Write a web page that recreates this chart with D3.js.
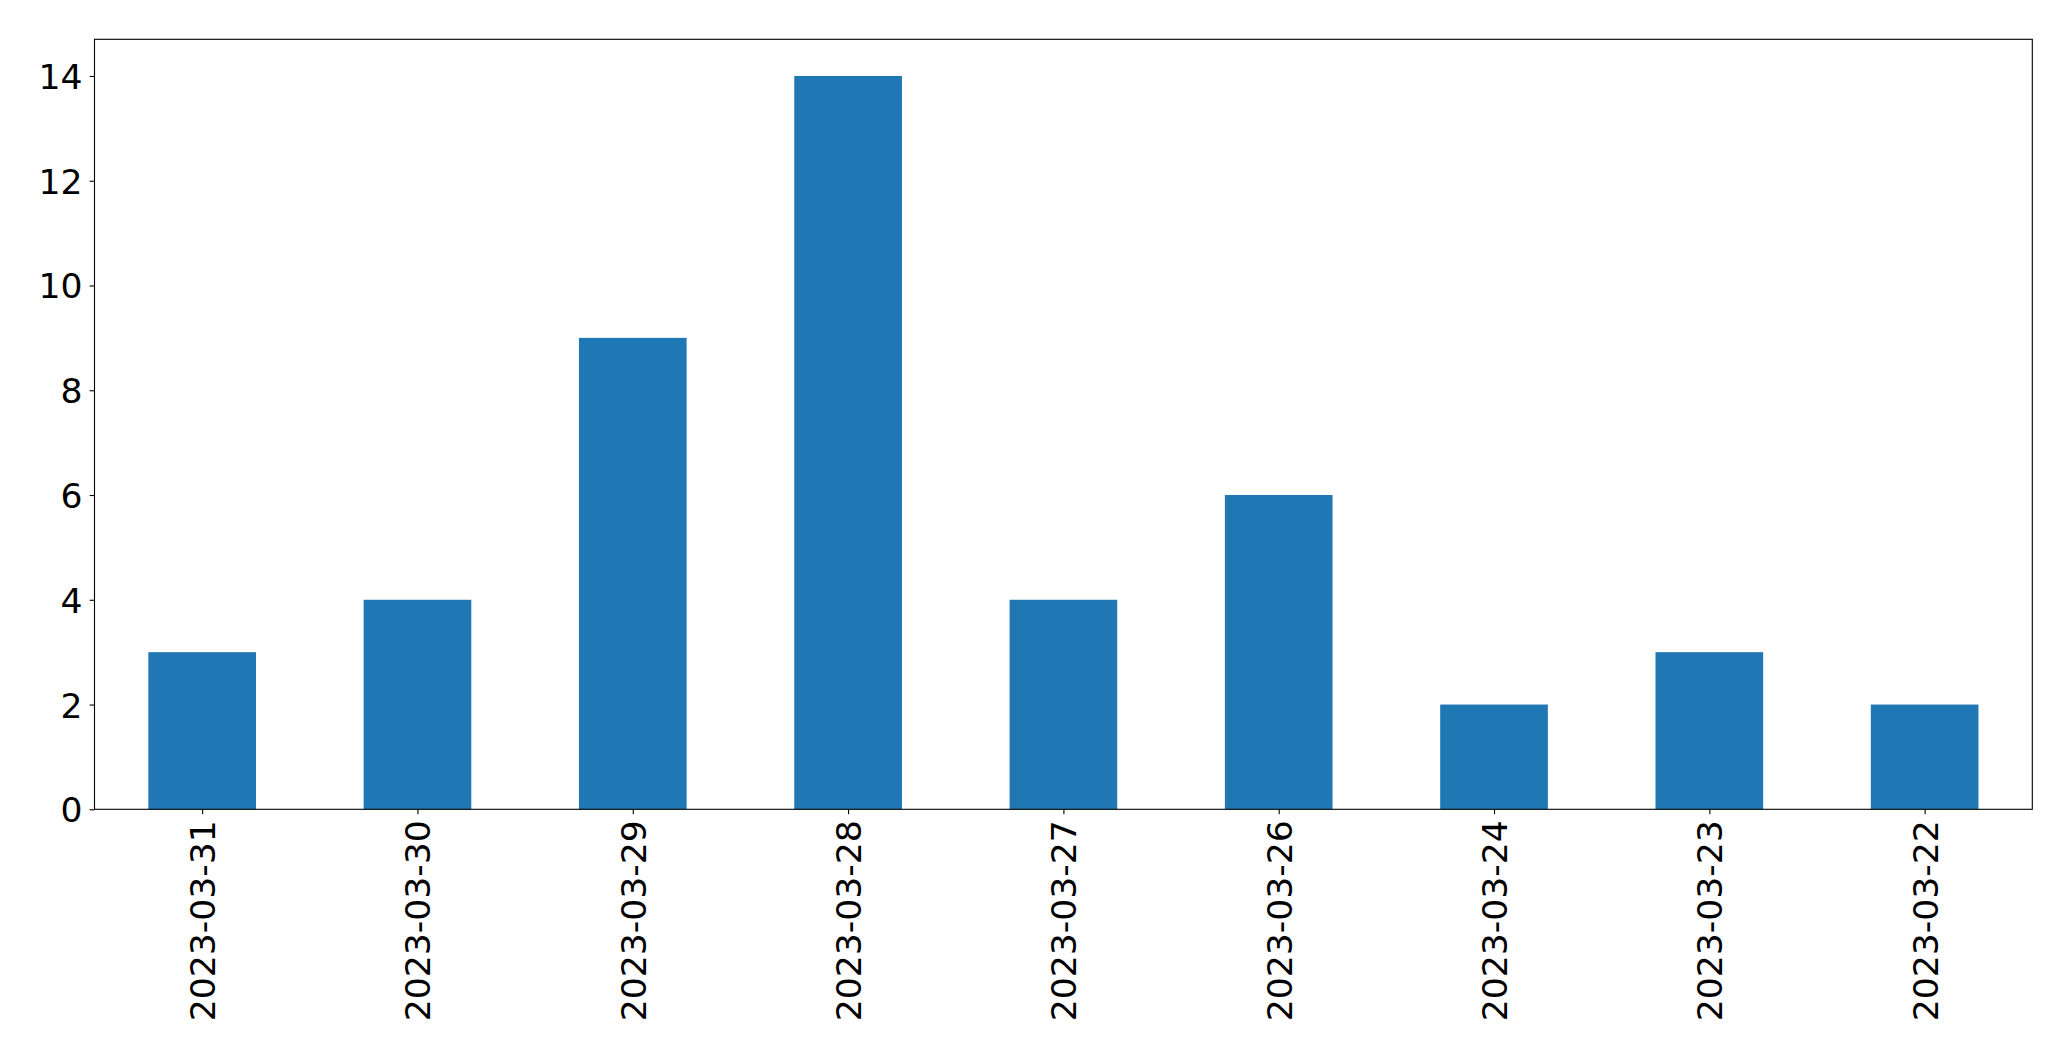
<!DOCTYPE html>
<html>
<head>
<meta charset="utf-8">
<script src="https://cdn.jsdelivr.net/npm/d3@7"></script>
<style>
  html, body { margin: 0; padding: 0; background: #fff; }
  svg { display: block; }
  text { font-family: "DejaVu Sans", sans-serif; fill: #000; }
</style>
</head>
<body>
<script>
const categories = ["2023-03-31", "2023-03-30", "2023-03-29", "2023-03-28", "2023-03-27", "2023-03-26", "2023-03-24", "2023-03-23", "2023-03-22"];
const values = [3, 4, 9, 14, 4, 6, 2, 3, 2];
const yTicks = [0, 2, 4, 6, 8, 10, 12, 14];

(function () {
const W = 2071, H = 1061;
const mLeft = 94.5, mRight = 2032.3, mTop = 39.3, mBottom = 809.3;
const fontPx = 34.6;

const svg = d3.select("body").append("svg").attr("width", W).attr("height", H);

const x = d3.scaleLinear().domain([-0.5, categories.length - 0.5]).range([mLeft, mRight]);
const y = d3.scaleLinear().domain([0, 14.7]).range([mBottom, mTop]);

// bars
svg.append("g").selectAll("rect").data(values).join("rect")
  .attr("x", (d, i) => x(i - 0.25))
  .attr("width", (d, i) => x(i + 0.25) - x(i - 0.25))
  .attr("y", d => y(d))
  .attr("height", d => y(0) - y(d))
  .attr("fill", "#1f77b4");

// y axis
const yAxis = svg.append("g").attr("transform", `translate(${mLeft},0)`)
  .call(d3.axisLeft(y).tickValues(yTicks).tickSize(4.9).tickPadding(7).tickFormat(d3.format("d")));
yAxis.select(".domain").remove();
yAxis.selectAll("line").attr("stroke", "#000").attr("stroke-width", 1.1);
yAxis.selectAll("text").style("font-size", fontPx + "px").attr("fill", "#000").attr("dy", "0.36em");

// x axis
const xAxis = svg.append("g").attr("transform", `translate(0,${mBottom})`)
  .call(d3.axisBottom(x).tickValues(d3.range(categories.length)).tickSize(4.9).tickFormat(i => categories[i]));
xAxis.select(".domain").remove();
xAxis.selectAll("line").attr("stroke", "#000").attr("stroke-width", 1.1);
xAxis.selectAll("text")
  .style("font-size", fontPx + "px")
  .attr("fill", "#000")
  .attr("text-anchor", "end")
  .attr("x", 0).attr("y", 0)
  .attr("dy", "0.36em")
  .attr("transform", "translate(0,11) rotate(-90)");

// frame
svg.append("rect")
  .attr("x", mLeft).attr("y", mTop)
  .attr("width", mRight - mLeft).attr("height", mBottom - mTop)
  .attr("fill", "none").attr("stroke", "#000").attr("stroke-width", 1.1);
})();
</script>
</body>
</html>
